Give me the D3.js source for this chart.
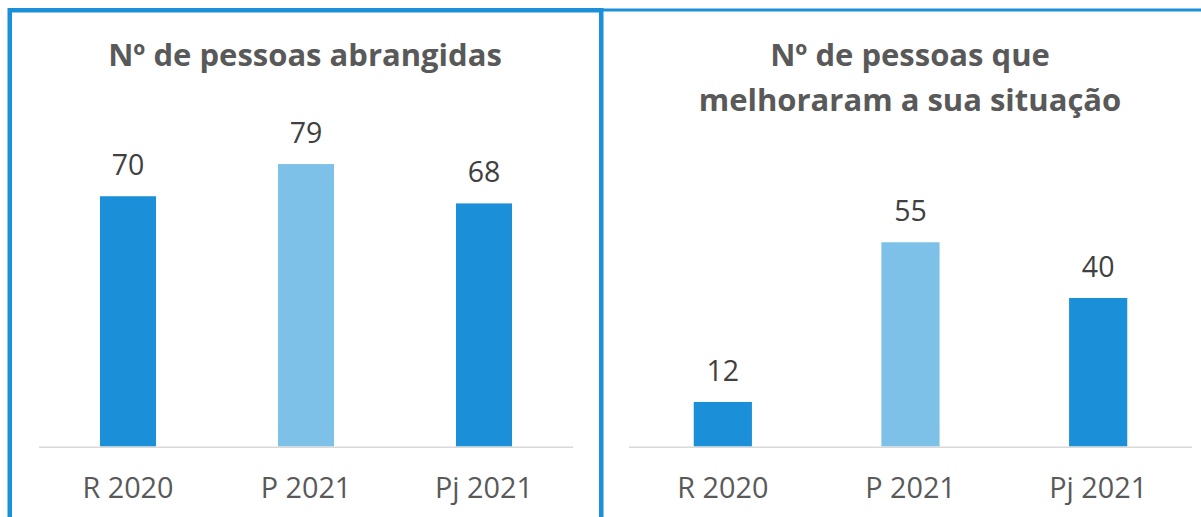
<!DOCTYPE html>
<html>
<head>
<meta charset="utf-8">
<script src="https://cdn.jsdelivr.net/npm/d3@7"></script>
<style>
  body { margin: 0; background: #fff; }
  svg { display: block; font-family: "Open Sans", sans-serif; }
</style>
</head>
<body>
<svg id="chart" width="1201" height="517"></svg>
<script>
const categories = ["R 2020", "P 2021", "Pj 2021"];
const coveredValues = [70, 79, 68];
const improvedValues = [12, 55, 40];
const leftTitle = ["Nº de pessoas abrangidas"];
const rightTitle = ["Nº de pessoas que", "melhoraram a sua situação"];

const Colors = {
    dark: "#1b8fd7",
    light: "#7dc0e8",
    border: "#1b8fd7",
    axis: "#d9d9d9",
    title: "#595959",
    value: "#404040",
    category: "#595959"
};

const svg = d3.select("#chart");

// panel frames
svg.append("rect")
    .attr("x", 9.75).attr("y", 10.25)
    .attr("width", 591.5).attr("height", 540)
    .attr("fill", "none")
    .attr("stroke", Colors.border)
    .attr("stroke-width", 4.5);

svg.append("line")
    .attr("x1", 601).attr("x2", 1201)
    .attr("y1", 10).attr("y2", 10)
    .attr("stroke", Colors.border)
    .attr("stroke-width", 2.8);

function drawPanel(opts) {
    let g = svg.append("g");

    let x = d3.scaleBand()
        .domain(categories)
        .range(opts.xRange)
        .paddingInner(opts.padding)
        .paddingOuter(opts.padding / 2);

    let y = d3.scaleLinear()
        .domain([0, opts.yMax])
        .range([446.5, opts.yTop]);

    g.selectAll("rect.bar")
        .data(opts.values)
        .enter()
        .append("rect")
        .classed("bar", true)
        .attr("x", function(d, i) { return x(categories[i]); })
        .attr("width", x.bandwidth())
        .attr("y", function(d) { return y(d); })
        .attr("height", function(d) { return y(0) - y(d); })
        .attr("fill", function(d, i) { return i === 1 ? Colors.light : Colors.dark; });

    g.append("line")
        .attr("x1", opts.xRange[0]).attr("x2", opts.xRange[1])
        .attr("y1", 447.2).attr("y2", 447.2)
        .attr("stroke", Colors.axis)
        .attr("stroke-width", 1.6);

    g.selectAll("text.value")
        .data(opts.values)
        .enter()
        .append("text")
        .classed("value", true)
        .attr("x", function(d, i) { return x(categories[i]) + x.bandwidth() / 2; })
        .attr("y", function(d) { return y(d) - 21; })
        .attr("text-anchor", "middle")
        .attr("font-size", 28.5)
        .attr("fill", Colors.value)
        .text(function(d) { return d; });

    g.selectAll("text.cat")
        .data(categories)
        .enter()
        .append("text")
        .classed("cat", true)
        .attr("x", function(d) { return x(d) + x.bandwidth() / 2; })
        .attr("y", 498)
        .attr("text-anchor", "middle")
        .attr("font-size", 28.8)
        .attr("fill", Colors.category)
        .text(function(d) { return d; });

    g.selectAll("text.title")
        .data(opts.title)
        .enter()
        .append("text")
        .classed("title", true)
        .attr("x", opts.titleX)
        .attr("y", function(d, i) { return 66 + i * 45; })
        .attr("text-anchor", "middle")
        .attr("font-size", 31)
        .attr("font-weight", 700)
        .attr("fill", Colors.title)
        .text(function(d) { return d; });
}

drawPanel({values: coveredValues, title: leftTitle, xRange: [39, 573], padding: 0.685, yMax: 100, yTop: 89, titleX: 305});
drawPanel({values: improvedValues, title: rightTitle, xRange: [629, 1192], padding: 0.69, yMax: 60, yTop: 223.7, titleX: 910});
</script>
</body>
</html>
